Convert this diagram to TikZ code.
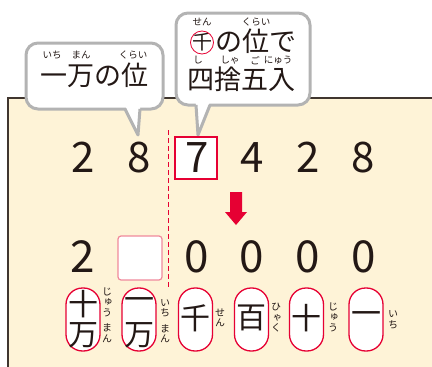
\documentclass[tikz,border=0pt]{standalone}
\usepackage{fontspec}
\setmainfont{Noto Sans CJK JP}
\newfontfamily\vfont[RawFeature=+vert]{Noto Sans CJK JP}
\definecolor{inkc}{HTML}{231815}
\definecolor{redc}{HTML}{E60033}
\definecolor{pinkc}{HTML}{F08A9C}
\definecolor{bubc}{HTML}{B3B3B3}
\definecolor{creamc}{HTML}{FEF3D7}
\definecolor{framec}{HTML}{40362F}
\tikzset{
  bigtxt/.style={font=\fontsize{27}{30}\selectfont, text=inkc, inner sep=0pt,
    text height=16pt, text depth=0pt, anchor=base},
  rubytxt/.style={font=\fontsize{9.5}{11}\selectfont, text=inkc, inner sep=0pt},
  digit/.style={font=\fontsize{42}{46}\selectfont, text=inkc, anchor=base, inner sep=0pt},
  ovalbox/.style={draw=redc, line width=1.3pt, fill=white, rounded corners=16.5pt,
    minimum width=34pt, minimum height=63pt, inner sep=0pt},
  ovaltxt/.style={font=\fontsize{30}{32}\selectfont, text=inkc, inner sep=0pt},
  vruby/.style={font=\vfont\fontsize{10}{10.5}\selectfont, text=inkc, align=center, inner sep=0pt},
  bubble/.style={draw=bubc, line width=3pt, fill=white, rounded corners=12pt},
  bubtail/.style={draw=bubc, line width=3pt, line join=round},
}
\begin{document}
\begin{tikzpicture}[x=1pt,y=-1pt]
\useasboundingbox (0,0) rectangle (432,367);
% panel
\fill[creamc] (8,98) rectangle (432,367);
\draw[framec, line width=1.3pt] (8,367) -- (8,98) -- (432,98);

% bubble 1
\draw[bubble] (26,43) rectangle (163,109);
\fill[white] (124.5,104) -- (138,135) -- (140.5,104) -- cycle;
\draw[bubtail] (125,109) -- (138,135) -- (140,109);
\node[bigtxt] (b1) at (95,85.3) {一万の位};
\node[rubytxt] (r1a) at (52,55) {いち};
\node[rubytxt] (r1b) at (81,55) {まん};
\node[rubytxt] (r1c) at (133,55) {くらい};

% bubble 2
\draw[bubble] (176,13) rectangle (310,105);
\fill[white] (195.5,100) -- (198,135) -- (210.5,100) -- cycle;
\draw[bubtail] (196,105) -- (198,135) -- (210,105);
\node[inner sep=0pt, text=inkc, font=\fontsize{20}{22}\selectfont] (b2s) at (202,42.5) {千};
\node[bigtxt, anchor=base west] (b2a) at (215,51.5) {の位で};
\node[bigtxt] (b2b) at (241,89.3) {四捨五入};
\draw[redc, line width=0.8pt] (b2s.center) circle (11.5);
\node[rubytxt] (r2a) at (202,21.5) {せん};
\node[rubytxt] (r2b) at (256,21.5) {くらい};
\node[rubytxt] (r2c) at (198,60.5) {し};
\node[rubytxt] (r2d) at (230,60.5) {しゃ};
\node[rubytxt] (r2e) at (255,60.5) {ご};
\node[rubytxt] (r2f) at (278,60.5) {にゅう};

% dashed line
\coordinate (dtop) at (168,130);
\coordinate (dbot) at (168,287);
\draw[redc, line width=1pt, dash pattern=on 5pt off 3pt] (dtop) -- (dbot);

% box around 7
\draw[redc, line width=1.2pt, fill=white] (175,137) rectangle (217,179);

% top row
\node[digit] (t1) at (83,172) {2};
\node[digit] (t2) at (139,172) {8};
\node[digit] (t3) at (197,172) {7};
\node[digit] (t4) at (252,172) {4};
\node[digit] (t5) at (308,172) {2};
\node[digit] (t6) at (363,172) {8};

% red arrow
\fill[redc] (230,192) -- (242,192) -- (242,212) -- (247,212) -- (236,225) -- (225,212) -- (230,212) -- cycle;

% bottom row
\draw[pinkc, line width=1.2pt, fill=white, rounded corners=3pt] (118,236) rectangle (162,280);
\node[digit, font=\fontsize{44}{48}\selectfont] (u1) at (83,272) {2};
\node[digit, font=\fontsize{44}{48}\selectfont] (u3) at (197,272) {0};
\node[digit, font=\fontsize{44}{48}\selectfont] (u4) at (252,272) {0};
\node[digit, font=\fontsize{44}{48}\selectfont] (u5) at (308,272) {0};
\node[digit, font=\fontsize{44}{48}\selectfont] (u6) at (364,272) {0};

% ovals
\node[ovalbox] (o1) at (83,319.5) {};
\node[ovalbox] (o2) at (139,319.5) {};
\node[ovalbox] (o3) at (195.5,319.5) {};
\node[ovalbox] (o4) at (251.5,319.5) {};
\node[ovalbox] (o5) at (306.5,319.5) {};
\node[ovalbox] (o6) at (366,319.5) {};
\node[ovaltxt] (c1a) at (83,304) {十};
\node[ovaltxt] (c1b) at (83,335) {万};
\node[ovaltxt] (c2a) at (139,304) {一};
\node[ovaltxt] (c2b) at (139,335) {万};
\node[ovaltxt] (c3) at (195.5,318) {千};
\node[ovaltxt] (c4) at (251.5,318) {百};
\node[ovaltxt] (c5) at (306.5,318) {十};
\node[ovaltxt] (c6) at (366,318) {一};

% vertical ruby
\node[vruby] (v1) at (107,315) {じ\\ゅ\\う\\[5pt]ま\\ん};
\node[vruby] (v2) at (165,321) {い\\ち\\[5pt]ま\\ん};
\node[vruby] (v3) at (220,318) {せ\\ん};
\node[vruby] (v4) at (276,318) {ひ\\ゃ\\く};
\node[vruby] (v5) at (333,317) {じ\\ゅ\\う};
\node[vruby] (v6) at (393,320) {い\\ち};
\end{tikzpicture}
\end{document}
